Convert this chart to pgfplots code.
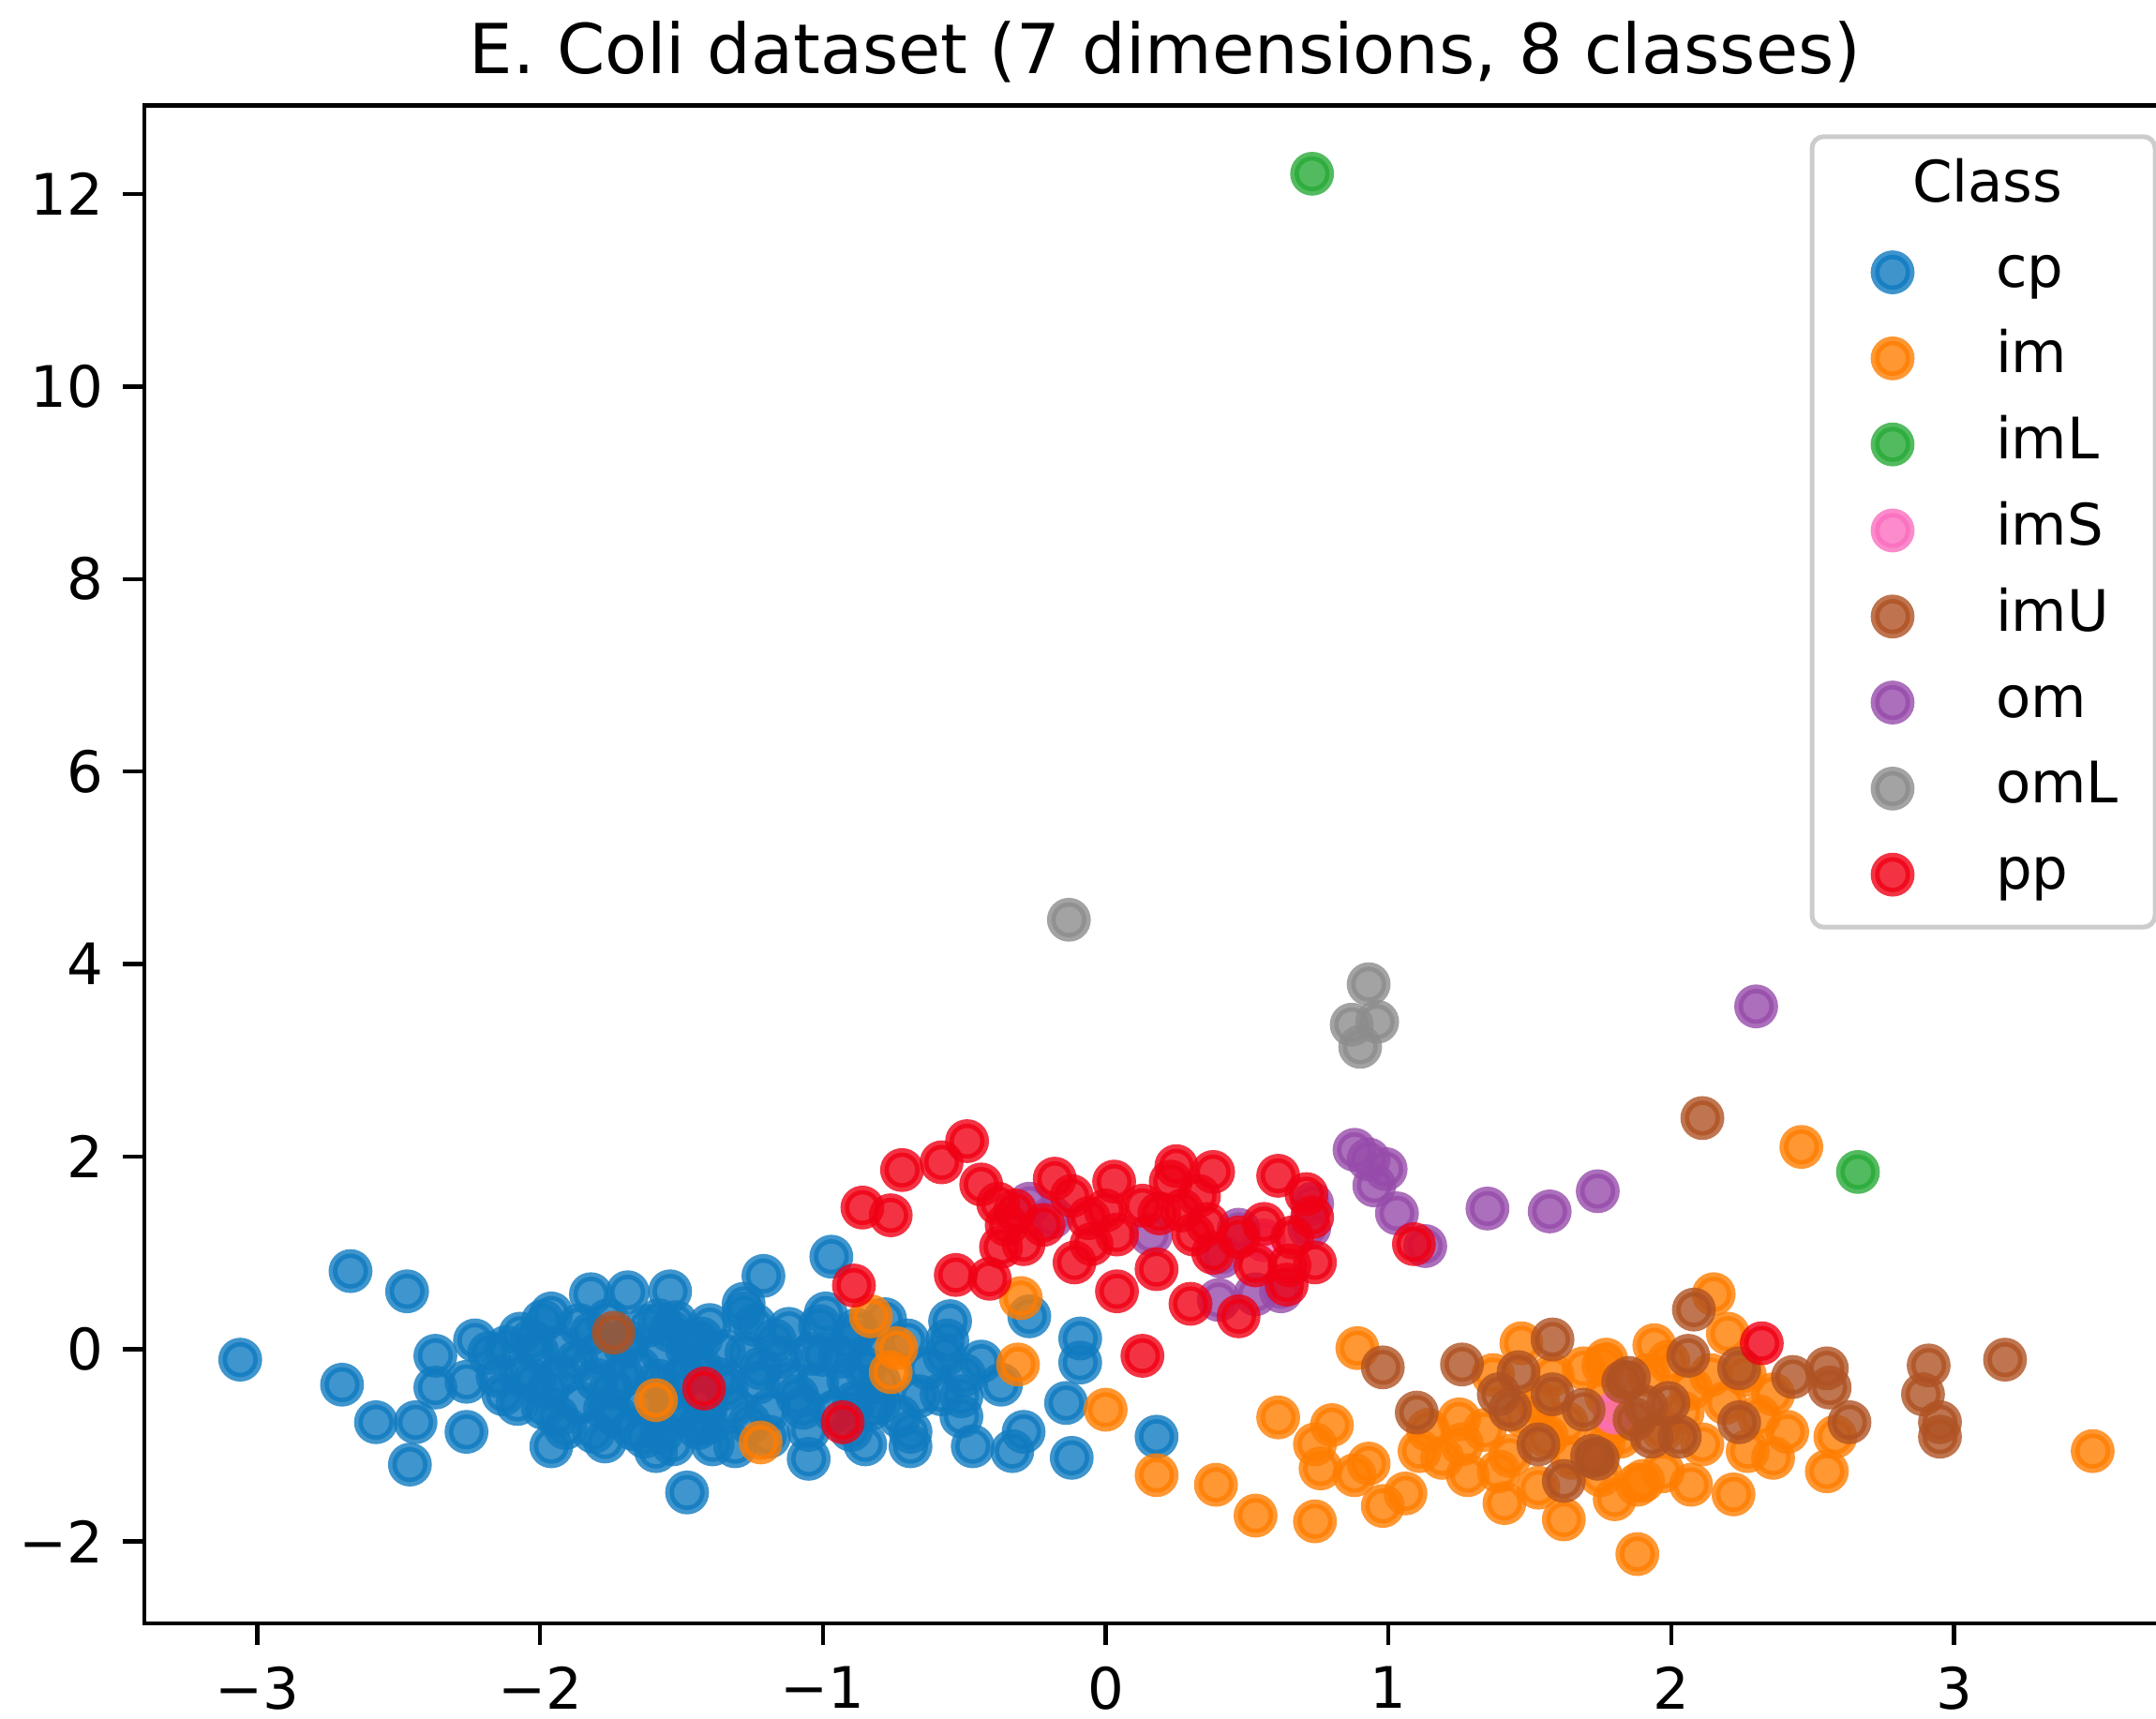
\documentclass[border=0pt]{standalone}
\usepackage{fontspec}
\setmainfont{DejaVu Sans}
\usepackage{pgfplots}
\pgfplotsset{compat=1.18}
\definecolor{ccp}{RGB}{15,122,192}
\definecolor{cim}{RGB}{255,125,0}
\definecolor{cimL}{RGB}{40,170,55}
\definecolor{cimS}{RGB}{250,110,190}
\definecolor{cimU}{RGB}{175,82,35}
\definecolor{com}{RGB}{150,75,170}
\definecolor{comL}{RGB}{140,140,140}
\definecolor{cpp}{RGB}{240,0,20}
\pgfplotsset{ecoli/.style={only marks, mark=*, mark size=3.74pt,
  mark options={line width=1.87pt, draw=#1, fill=#1, opacity=0.8}}}
\begin{document}
\begin{tikzpicture}
\begin{axis}[
  scale only axis, width=435.6pt, height=323.9pt,
  xmin=-3.399, xmax=3.82, ymin=-2.85, ymax=12.92,
  xtick={-3,-2,-1,0,1,2,3}, xticklabels={−3,−2,−1,0,1,2,3},
  ytick={-2,0,2,4,6,8,10,12}, yticklabels={−2,0,2,4,6,8,10,12},
  tick pos=left, tick align=outside, major tick length=4.6pt,
  tick style={line width=0.9pt, black},
  axis line style={line width=0.9pt},
  ticklabel style={font=\fontsize{12.2}{14}\selectfont, inner sep=0pt},
  xticklabel shift=4.4pt, yticklabel shift=4.0pt,
  title={E. Coli dataset (7 dimensions, 8 classes)},
  title style={at={(0.5,1)}, anchor=base, yshift=0.8pt, inner sep=0pt, font=\fontsize{14.7}{17}\selectfont},
  legend cell align=left,
  legend image code/.code={\path[draw=none,fill=none] (-12.2pt,-6pt) rectangle (12.2pt,6pt); \draw[#1] plot coordinates {(0pt,0pt)};},
  legend style={at={(0.986,0.981)}, anchor=north east, draw=black!20, line width=1pt,
    rounded corners=2.5pt, fill=white, inner xsep=5pt, inner ysep=5.2pt,
    row sep=6.36pt, column sep=9.8pt, font=\fontsize{12.2}{14.6}\selectfont,
    nodes={inner sep=0pt, text height=8.8pt, text depth=2.6pt, text width=29pt, align=left}},
]
\addlegendimage{empty legend}
\addlegendentry{\hspace*{-17.8pt}Class}
\addplot[ecoli=ccp] table {
-1.99 0.29
-1.86 0.25
-1.76 0.30
-1.62 0.24
-1.52 0.28
-1.40 0.25
-2.12 0.02
-2.01 -0.03
-1.92 0.01
-1.79 -0.04
-1.70 0.02
-1.57 -0.03
-1.48 0.00
-1.35 -0.02
-2.15 -0.28
-2.02 -0.33
-1.93 -0.27
-1.80 -0.32
-1.71 -0.28
-1.58 -0.33
-1.49 -0.27
-1.37 -0.31
-2.08 -0.57
-1.99 -0.61
-1.86 -0.56
-1.77 -0.62
-1.64 -0.58
-1.54 -0.61
-1.41 -0.57
-1.32 -0.60
-1.91 -0.82
-1.81 -0.86
-1.67 -0.83
-1.57 -0.87
-1.44 -0.82
-1.24 0.25
-1.12 0.21
-1.01 0.24
-0.88 0.20
-1.27 -0.04
-1.15 -0.08
-1.04 -0.05
-0.94 -0.08
-0.83 -0.04
-1.23 -0.35
-1.13 -0.32
-1.02 -0.36
-0.91 -0.32
-0.80 -0.35
-1.19 -0.64
-1.07 -0.61
-0.96 -0.65
-0.83 -0.62
-0.70 0.09
-0.63 -0.20
-0.51 -0.49
-0.66 -0.49
-0.56 0.09
-0.44 -0.13
-3.06 -0.11
-2.67 0.81
-2.47 0.60
-2.70 -0.37
-2.58 -0.76
-2.44 -0.76
-2.46 -1.20
-2.26 -0.86
-2.37 -0.07
-2.23 0.09
-2.18 -0.04
-2.37 -0.40
-2.26 -0.34
-1.96 0.37
-2.03 0.09
-1.82 0.57
-1.69 0.59
-1.54 0.60
-1.96 -1.01
-1.59 -1.06
-1.48 -1.49
-2.13 -0.47
-1.21 0.76
-0.97 0.96
-0.99 0.37
-1.28 0.37
-0.85 -0.99
-1.05 -1.14
-1.31 -1.01
-0.69 -0.86
-0.69 -1.01
-0.47 -1.01
-0.29 -0.86
-0.33 -1.06
-0.12 -1.13
-0.14 -0.56
-0.09 0.11
-0.09 -0.14
-0.27 0.34
-0.37 -0.37
-0.55 0.29
-0.57 -0.07
-0.50 -0.27
-0.58 -0.47
-0.51 -0.70
0.18 -0.91
-0.78 0.31
-0.85 -0.20
-0.89 -0.56
-1.54 0.19
-1.43 0.11
-1.28 0.47
-0.90 -0.84
-0.73 -0.70
-1.63 -0.91
-1.77 -0.96
-1.19 -0.91
-1.39 -0.99
-1.53 -0.99
-2.07 -0.27
-1.97 -0.41
-1.87 -0.13
-1.75 -0.41
-1.65 -0.20
-1.53 -0.41
-1.43 -0.20
-1.34 -0.41
-1.94 -0.70
-1.73 -0.70
-1.51 -0.70
-2.07 0.16
-1.82 0.16
-1.58 0.30
-1.22 -0.20
-1.09 -0.49
-1.00 -0.06
-0.90 0.09
-1.17 0.09
-1.05 -0.84
-0.80 -0.56
-1.26 -0.77
-1.41 -0.77
-1.70 0.09
-1.46 0.09
};
\addlegendentry{cp}
\addplot[ecoli=cim] table {
-1.59 -0.53
-1.22 -0.97
-0.83 0.34
-0.74 0.01
-0.76 -0.24
-0.30 0.53
-0.31 -0.16
0.00 -0.63
0.18 -1.31
0.89 0.01
0.61 -0.71
0.39 -1.41
0.53 -1.73
0.74 -1.79
0.80 -0.79
0.74 -0.99
0.76 -1.24
0.93 -1.19
0.88 -1.31
0.98 -1.63
1.06 -1.50
1.11 -1.06
1.25 -0.73
1.28 -1.31
1.26 -0.99
1.41 -1.60
1.47 0.06
1.37 -0.27
1.43 -1.11
1.62 -1.77
1.69 -0.20
1.77 -0.11
1.53 -1.44
1.75 -1.31
1.88 -1.41
1.88 -2.13
2.15 0.57
2.20 0.16
1.94 0.04
1.76 -0.17
2.04 -0.66
1.90 -1.37
2.22 -1.51
2.27 -1.06
2.41 -0.86
2.36 -0.47
2.55 -1.27
2.58 -0.91
3.49 -1.06
1.80 -0.76
1.76 -0.99
2.46 2.10
1.48 -0.70
1.56 -0.91
1.63 -0.77
1.77 -0.49
1.82 -0.91
1.97 -0.84
2.07 -0.41
2.14 -0.27
2.19 -0.56
2.31 -0.70
2.36 -1.13
1.34 -0.84
1.19 -1.13
1.39 -1.27
1.65 -1.13
1.80 -1.56
1.97 -1.27
2.11 -0.99
2.26 -0.27
1.99 -0.13
1.92 -0.27
1.58 -0.27
1.14 -0.84
2.07 -1.41
1.53 -0.56
};
\addlegendentry{im}
\addplot[ecoli=cimL] table {
0.73 12.21
2.66 1.84
};
\addlegendentry{imL}
\addplot[ecoli=cimS] table {
0.56 1.13
1.80 -0.66
};
\addlegendentry{imS}
\addplot[ecoli=cimU] table {
2.08 0.41
2.06 -0.07
1.85 -0.30
1.91 -0.60
1.93 -0.91
2.03 -0.91
1.74 -1.14
2.24 -0.20
2.24 -0.76
2.43 -0.29
2.55 -0.20
2.56 -0.40
2.63 -0.76
2.91 -0.17
2.89 -0.47
2.95 -0.76
2.95 -0.91
3.18 -0.11
0.98 -0.19
1.26 -0.16
1.58 0.10
1.10 -0.66
1.39 -0.47
1.46 -0.24
1.58 -0.47
1.69 -0.63
1.83 -0.34
1.53 -0.99
1.72 -1.11
1.62 -1.37
1.43 -0.63
1.87 -0.73
-1.74 0.17
2.11 2.40
1.99 -0.56
};
\addlegendentry{imU}
\addplot[ecoli=com] table {
2.30 3.56
1.74 1.64
1.57 1.43
1.35 1.46
0.88 2.07
0.99 1.87
1.03 1.41
1.13 1.07
0.72 1.26
0.47 1.24
0.16 1.19
-0.27 1.51
0.40 0.51
0.62 0.60
0.53 0.57
0.41 0.96
0.93 1.97
0.95 1.70
0.73 1.51
-0.19 1.37
};
\addlegendentry{om}
\addplot[ecoli=comL] table {
0.93 3.79
0.87 3.37
0.96 3.40
0.90 3.14
-0.13 4.46
};
\addlegendentry{omL}
\addplot[ecoli=cpp] table {
-0.49 2.16
-0.58 1.94
-0.72 1.86
-0.86 1.47
-0.76 1.39
-0.44 1.71
-0.38 1.51
-0.35 1.29
-0.37 1.06
-0.53 0.77
-0.41 0.73
-0.89 0.66
-0.18 1.77
-0.22 1.29
-0.11 0.90
0.03 1.74
0.00 1.44
0.04 1.19
-0.06 1.36
0.04 0.60
0.18 0.83
0.13 1.49
0.25 1.90
0.38 1.84
0.33 1.59
0.31 1.19
0.30 0.47
0.47 0.34
0.47 1.16
0.53 0.87
0.65 0.87
0.74 0.90
0.61 1.80
0.71 1.61
1.09 1.09
0.13 -0.07
0.23 1.74
0.19 1.41
0.64 0.67
0.38 1.00
-1.42 -0.41
-0.93 -0.76
2.32 0.06
-0.32 1.44
-0.29 1.09
-0.12 1.59
-0.05 1.09
0.27 1.44
0.36 1.30
0.56 1.30
0.66 1.16
0.73 1.37
};
\addlegendentry{pp}
\end{axis}
\pgfresetboundingbox
\useasboundingbox (-30.8pt,-20.2pt) rectangle (429.2pt,346.4pt);
\end{tikzpicture}
\end{document}
